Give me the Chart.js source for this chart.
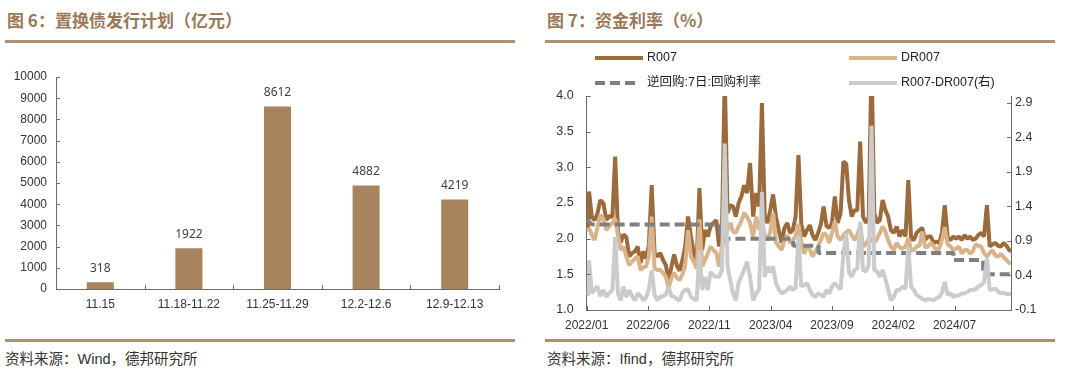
<!DOCTYPE html>
<html><head><meta charset="utf-8">
<script src="https://cdn.jsdelivr.net/npm/chart.js@4.4.1/dist/chart.umd.min.js"></script>
<style>
html,body{margin:0;padding:0;background:#fff;}
body{width:1080px;height:378px;position:relative;overflow:hidden;}
.title{position:absolute;top:8px;font:bold 17px "Noto Sans CJK SC",sans-serif;color:#9a7858;line-height:24px;white-space:nowrap;}
.rule{position:absolute;height:3px;background:#ad9073;}
.src{position:absolute;top:349px;font:14.5px "Liberation Sans","Noto Sans CJK SC",sans-serif;color:#333;line-height:20px;white-space:nowrap;}
canvas{position:absolute;top:0;}
</style></head>
<body>
<div class="title" style="left:7px">图 6：置换债发行计划（亿元）</div>
<div class="title" style="left:547px">图 7：资金利率（%）</div>
<div class="rule" style="left:5px;width:510px;top:39.5px"></div>
<div class="rule" style="left:545px;width:510px;top:39.5px"></div>
<div class="rule" style="left:5px;width:510px;top:339px"></div>
<div class="rule" style="left:545px;width:510px;top:339px"></div>
<div class="src" style="left:5px">资料来源：Wind，德邦研究所</div>
<div class="src" style="left:547px">资料来源：Ifind，德邦研究所</div>
<canvas id="c1" width="540" height="340" style="left:0;width:540px;height:340px"></canvas>
<canvas id="c2" width="540" height="340" style="left:540px;width:540px;height:340px"></canvas>
<script>
// ---------- Figure 6 data ----------
const barCategories = ['11.15','11.18-11.22','11.25-11.29','12.2-12.6','12.9-12.13'];
const barValues = [318, 1922, 8612, 4882, 4219];
const barTicks = [0,1000,2000,3000,4000,5000,6000,7000,8000,9000,10000];

// ---------- Figure 7 data (weekly readings) ----------
const rateDates = ['2022-01-04',
'2022-01-07','2022-01-14','2022-01-21','2022-01-28','2022-02-04','2022-02-11','2022-02-18','2022-02-25','2022-03-04','2022-03-11',
'2022-03-18','2022-03-25','2022-04-01','2022-04-08','2022-04-15','2022-04-22','2022-04-29','2022-05-06','2022-05-13','2022-05-20',
'2022-05-27','2022-06-03','2022-06-10','2022-06-17','2022-06-24','2022-07-01','2022-07-08','2022-07-15','2022-07-22','2022-07-29',
'2022-08-05','2022-08-12','2022-08-19','2022-08-26','2022-09-02','2022-09-09','2022-09-16','2022-09-23','2022-09-30','2022-10-07',
'2022-10-14','2022-10-21','2022-10-28','2022-11-04','2022-11-11','2022-11-18','2022-11-25','2022-12-02','2022-12-09','2022-12-16',
'2022-12-23','2022-12-30','2023-01-06','2023-01-13','2023-01-20','2023-01-27','2023-02-03','2023-02-10','2023-02-17','2023-02-24',
'2023-03-03','2023-03-10','2023-03-17','2023-03-24','2023-03-31','2023-04-07','2023-04-14','2023-04-21','2023-04-28','2023-05-05',
'2023-05-12','2023-05-19','2023-05-26','2023-06-02','2023-06-09','2023-06-16','2023-06-23','2023-06-30','2023-07-07','2023-07-14',
'2023-07-21','2023-07-28','2023-08-04','2023-08-11','2023-08-18','2023-08-25','2023-09-01','2023-09-08','2023-09-15','2023-09-22',
'2023-09-29','2023-10-06','2023-10-13','2023-10-20','2023-10-27','2023-11-03','2023-11-10','2023-11-17','2023-11-24','2023-12-01',
'2023-12-08','2023-12-15','2023-12-22','2023-12-29','2024-01-05','2024-01-12','2024-01-19','2024-01-26','2024-02-02','2024-02-09',
'2024-02-16','2024-02-23','2024-03-01','2024-03-08','2024-03-15','2024-03-22','2024-03-29','2024-04-05','2024-04-12','2024-04-19',
'2024-04-26','2024-05-03','2024-05-10','2024-05-17','2024-05-24','2024-05-31','2024-06-07','2024-06-14','2024-06-21','2024-06-28',
'2024-07-05','2024-07-12','2024-07-19','2024-07-26','2024-08-02','2024-08-09','2024-08-16','2024-08-23','2024-08-30','2024-09-06',
'2024-09-13','2024-09-20','2024-09-27','2024-10-04','2024-10-11','2024-10-18','2024-10-25','2024-11-01','2024-11-08','2024-11-15',
'2024-11-19'];

const r007 = [2.12,
2.66,2.30,2.26,2.35,2.54,2.50,2.26,2.32,2.30,3.15,
2.10,1.95,2.06,2.02,1.75,1.80,1.82,1.89,1.66,1.82,
1.72,1.90,2.75,1.80,1.75,1.80,1.70,1.63,1.42,1.60,
1.78,1.62,1.55,1.70,1.89,2.31,2.03,1.80,1.66,2.71,
1.84,2.12,2.03,2.17,2.22,2.26,1.89,2.12,4.30,2.36,
2.47,2.45,2.31,2.50,2.59,2.75,2.64,3.06,2.31,2.64,
2.45,3.90,2.31,2.22,2.40,2.62,2.31,2.12,1.94,2.15,
2.22,2.08,2.12,2.31,3.17,2.20,2.03,2.12,2.19,2.05,
1.98,2.08,2.20,2.45,2.18,2.15,2.22,2.59,2.22,2.35,
3.08,3.05,2.54,2.31,2.40,2.40,3.36,2.31,2.22,2.30,
4.50,2.36,2.22,2.26,2.54,2.40,2.31,2.12,2.08,2.17,
2.03,2.12,2.03,2.82,2.00,1.98,2.08,2.12,2.15,1.98,
2.03,2.03,1.94,1.96,1.94,2.08,2.47,2.02,1.98,2.03,
2.00,2.03,1.98,2.05,2.00,2.03,1.98,2.00,2.05,2.08,
2.03,2.47,1.89,1.92,1.94,1.90,1.89,1.94,1.90,1.84,
1.82];

const dr007 = [2.10,
2.15,2.05,1.98,2.15,2.33,2.28,2.12,2.18,2.22,2.28,
2.05,1.84,1.89,1.75,1.63,1.68,1.72,1.75,1.56,1.60,
1.61,1.75,2.31,1.58,1.56,1.56,1.52,1.47,1.30,1.45,
1.52,1.45,1.42,1.50,1.62,2.12,1.75,1.68,1.58,2.27,
1.61,1.70,1.79,1.89,1.84,1.80,1.61,1.89,2.00,2.12,
2.22,2.10,2.08,2.17,2.25,2.36,2.31,2.22,2.03,2.31,
2.12,2.29,2.03,1.98,2.10,2.36,1.95,1.89,1.84,1.98,
2.05,1.94,1.98,2.03,2.21,1.95,1.79,1.89,1.85,1.75,
1.82,1.89,1.98,2.08,2.05,1.94,2.08,2.24,2.03,1.98,
2.05,2.09,2.12,2.05,1.98,2.05,2.18,1.89,1.92,2.00,
2.00,1.94,2.00,2.08,2.17,2.10,1.98,1.89,1.84,1.94,
1.88,1.86,1.89,2.01,1.84,1.84,1.89,1.90,2.10,1.88,
1.89,1.94,1.90,1.84,1.86,1.98,2.16,1.92,1.89,1.84,
1.86,1.89,1.79,1.84,1.84,1.79,1.82,1.92,1.90,1.89,
1.80,1.75,1.80,1.84,1.76,1.75,1.79,1.74,1.70,1.66,
1.65];

const spread = [0.10,
0.62,0.14,0.20,0.24,0.10,0.19,0.09,0.15,0.19,0.96,
0.14,0.04,0.24,0.09,0.19,0.10,0.04,0.14,0.10,0.04,
0.08,0.20,0.48,0.12,0.04,0.09,0.10,0.12,0.24,0.10,
0.09,0.06,0.04,0.15,0.19,0.20,0.09,0.06,0.04,0.77,
0.19,0.38,0.19,0.45,0.40,0.38,0.38,0.48,2.31,0.53,
0.33,0.14,0.04,0.30,0.38,0.48,0.60,0.38,0.04,0.14,
0.20,1.61,0.38,0.53,0.45,0.53,0.29,0.20,0.14,0.16,
0.19,0.24,0.19,0.22,0.96,0.24,0.26,0.29,0.19,0.12,
0.09,0.14,0.12,0.09,0.19,0.14,0.24,0.29,0.24,0.20,
0.70,1.01,0.45,0.38,0.48,0.50,1.18,0.48,0.46,0.55,
2.57,0.48,0.46,0.38,0.48,0.35,0.20,0.04,0.09,0.19,
0.19,0.24,0.21,0.81,0.24,0.19,0.12,0.09,0.06,0.04,
0.06,0.05,0.04,0.07,0.09,0.15,0.31,0.12,0.14,0.09,
0.11,0.11,0.14,0.14,0.16,0.19,0.19,0.20,0.24,0.26,
0.30,0.65,0.19,0.20,0.21,0.17,0.14,0.15,0.13,0.13,
0.13];

const policyDates = ['2022-01-01','2022-01-14','2022-11-27','2022-11-27','2023-05-27','2023-05-27','2023-07-29','2023-07-29','2024-06-28','2024-06-28','2024-09-11','2024-09-11','2024-11-19'];
const policyRates = [2.27,2.20,2.20,2.00,2.00,1.90,1.90,1.80,1.80,1.70,1.70,1.50,1.50];

const xTickLabels = ['2022/01','2022/06','2022/11','2023/04','2023/09','2024/02','2024/07'];
const leftTicks = [1.0,1.5,2.0,2.5,3.0,3.5,4.0];
const rightTicks = [-0.1,0.4,0.9,1.4,1.9,2.4,2.9];
const legendLabels = ['R007','DR007','逆回购:7日:回购利率','R007-DR007(右)'];

// ---------- helpers ----------
function toM(s){
  const p = s.replace(/\//g,'-').split('-').map(Number);
  const y = p[0], mo = p[1], d = p.length > 2 ? p[2] : 1;
  const dim = new Date(y, mo, 0).getDate();
  return (y-2022)*12 + (mo-1) + (d-1)/dim;
}
const AXIS = '#6b6b6b';
const TXT = '#333333';
const FONT = '"Liberation Sans", Arial, sans-serif';

// ---------- Figure 6 ----------
const barPlugin = {
  id:'barExtras',
  afterDraw(chart){
    const {ctx, chartArea:a, scales:{x, y}} = chart;
    ctx.save();
    ctx.strokeStyle = AXIS; ctx.lineWidth = 1;
    ctx.beginPath();
    y.ticks.forEach(t => { const py = Math.round(y.getPixelForValue(t.value)) + 0.5; ctx.moveTo(a.left, py); ctx.lineTo(a.left + 4, py); });
    const half = (x.getPixelForValue(1) - x.getPixelForValue(0)) / 2;
    barCategories.forEach((c, i) => { const px = Math.round(x.getPixelForValue(i) + half) + 0.5; ctx.moveTo(px, a.bottom); ctx.lineTo(px, a.bottom - 4); });
    ctx.stroke();
    ctx.fillStyle = '#404040';
    ctx.font = '12px "Noto Sans", ' + FONT;
    ctx.textAlign = 'center'; ctx.textBaseline = 'middle';
    chart.getDatasetMeta(0).data.forEach((bar, i) => ctx.fillText(String(barValues[i]), bar.x, bar.y - 14));
    ctx.restore();
  }
};
new Chart(document.getElementById('c1'), {
  type:'bar',
  data:{ labels: barCategories, datasets:[{ data: barValues, backgroundColor:'#a7845d', categoryPercentage:1, barPercentage:0.305 }] },
  options:{
    responsive:false, animation:false, devicePixelRatio:1,
    layout:{ padding:{ top:77, right:41, bottom:0, left:0 } },
    plugins:{ legend:{display:false}, tooltip:{enabled:false} },
    scales:{
      x:{ grid:{display:false, drawTicks:false}, border:{display:true, color:AXIS, width:1},
          ticks:{ color:TXT, font:{family:FONT, size:12}, padding:8, maxRotation:0, autoSkip:false },
          afterFit(s){ s.height = 51; } },
      y:{ min:0, max:10000, grid:{display:false, drawTicks:false}, border:{display:true, color:AXIS, width:1},
          afterBuildTicks(s){ s.ticks = barTicks.map(v => ({value:v})); },
          ticks:{ color:TXT, font:{family:FONT, size:12}, padding:9, callback:v => String(v) },
          afterFit(s){ s.width = 56; } }
    }
  },
  plugins:[barPlugin]
});

// ---------- Figure 7 ----------
const xs = rateDates.map(toM);
const xMax = xs[xs.length-1];
const rateChartPlugin = {
  id:'rateExtras',
  afterDraw(chart){
    const {ctx, chartArea:a, scales:{x, y, y1}} = chart;
    ctx.save();
    ctx.strokeStyle = AXIS; ctx.lineWidth = 1;
    ctx.beginPath();
    x.ticks.forEach(t => { const px = Math.round(x.getPixelForValue(t.value)) + 0.5; ctx.moveTo(px, a.bottom); ctx.lineTo(px, a.bottom - 4); });
    y.ticks.forEach(t => { const py = Math.round(y.getPixelForValue(t.value)) + 0.5; ctx.moveTo(a.left, py); ctx.lineTo(a.left + 4, py); });
    y1.ticks.forEach(t => { const py = Math.round(y1.getPixelForValue(t.value)) + 0.5; ctx.moveTo(a.right, py); ctx.lineTo(a.right - 4, py); });
    ctx.stroke();
    // legend (2 x 2)
    const slots = [[55,58],[309,58],[55,83],[309,83]];
    ctx.font = '12.5px "Liberation Sans", Arial, "Noto Sans CJK SC", sans-serif';
    ctx.textAlign = 'left'; ctx.textBaseline = 'middle'; ctx.fillStyle = '#222';
    chart.data.datasets.forEach((ds, i) => {
      const [lx, ly] = slots[i];
      const dashed = ds.borderDash && ds.borderDash.length;
      ctx.save();
      ctx.strokeStyle = ds.borderColor; ctx.lineWidth = 4; ctx.lineCap = 'butt';
      ctx.setLineDash(dashed ? ds.borderDash : []);
      ctx.beginPath(); ctx.moveTo(lx, ly); ctx.lineTo(lx + (dashed ? 40 : 48), ly); ctx.stroke();
      ctx.restore();
      ctx.fillText(legendLabels[i], lx + 52, ly);
    });
    ctx.restore();
  }
};
new Chart(document.getElementById('c2'), {
  type:'line',
  data:{ datasets:[
    { label:legendLabels[0], data: xs.map((m,i)=>({x:m, y:r007[i]})), borderColor:'#9c6b3c', borderWidth:4, yAxisID:'y', order:3, clip:0 },
    { label:legendLabels[1], data: xs.map((m,i)=>({x:m, y:dr007[i]})), borderColor:'#d9b48a', borderWidth:4, yAxisID:'y', order:2 },
    { label:legendLabels[2], data: policyDates.map((d,i)=>({x:toM(d), y:policyRates[i]})), borderColor:'#7f7f7f', borderWidth:4, borderDash:[10,5], yAxisID:'y', order:1 },
    { label:legendLabels[3], data: xs.map((m,i)=>({x:m, y:spread[i]})), borderColor:'#cbcbcb', borderWidth:4, yAxisID:'y1', order:0 }
  ]},
  options:{
    responsive:false, animation:false, devicePixelRatio:1,
    elements:{ point:{radius:0}, line:{tension:0, borderJoinStyle:'bevel', fill:false} },
    layout:{ padding:{ top:96, right:0, bottom:0, left:0 } },
    plugins:{ legend:{display:false}, tooltip:{enabled:false} },
    scales:{
      x:{ type:'linear', min:0, max:xMax, grid:{display:false, drawTicks:false}, border:{display:true, color:AXIS, width:1},
          afterBuildTicks(s){ s.ticks = xTickLabels.map(l => ({value: toM(l)})); },
          ticks:{ color:TXT, font:{family:FONT, size:12}, padding:8, maxRotation:0, autoSkip:false,
                  callback:(v, i) => xTickLabels[i] },
          afterFit(s){ s.height = 30; } },
      y:{ position:'left', min:1, max:4, grid:{display:false, drawTicks:false}, border:{display:true, color:AXIS, width:1},
          afterBuildTicks(s){ s.ticks = leftTicks.map(v => ({value:v})); },
          ticks:{ color:TXT, font:{family:FONT, size:12.5}, padding:13, callback:v => Number(v).toFixed(1) },
          afterFit(s){ s.width = 46.7; } },
      y1:{ position:'right', min:-0.1, max:3.0, grid:{display:false, drawTicks:false}, border:{display:true, color:AXIS, width:1},
          afterBuildTicks(s){ s.ticks = rightTicks.map(v => ({value:v})); },
          ticks:{ color:TXT, font:{family:FONT, size:12.5}, padding:4, callback:v => Number(v).toFixed(1) },
          afterFit(s){ s.width = 69; } }
    }
  },
  plugins:[rateChartPlugin]
});
</script>
</body></html>
